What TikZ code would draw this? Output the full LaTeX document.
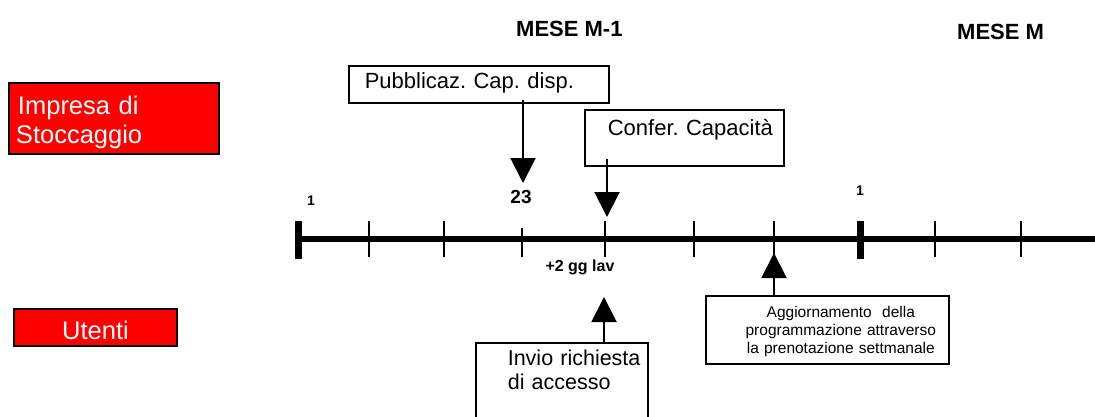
\documentclass[tikz,border=0pt]{standalone}
\usepackage{fontspec}
\setmainfont{Liberation Sans}
\usetikzlibrary{arrows.meta,calc}
\definecolor{boxred}{RGB}{255,0,0}
\newcommand{\padl}[1]{\hspace*{#1}}
\begin{document}
\frenchspacing
\begin{tikzpicture}[x=1pt,y=-1pt,
  redbox/.style={draw=black, line width=2pt, fill=boxred, text=white, inner sep=0pt, anchor=north west, font=\fontsize{25.5}{29}\selectfont},
  whitebox/.style={draw=black, line width=1.6pt, fill=white, inner sep=0pt, anchor=north west},
  arr/.style={line width=2pt, -{Triangle[width=25pt,length=25pt]}},
  timeline/.style={line width=5.5pt},
  thintick/.style={line width=2pt},
  thicktick/.style={line width=7pt},
  lbl/.style={anchor=base, inner sep=0pt},
  month/.style={anchor=base west, inner sep=0pt, font=\bfseries\fontsize{22}{26}\selectfont}]
\clip (0,0) rectangle (1095,416);

% month labels
\node[month] (m1) at (516,36) {MESE M-1};
\node[month] (m0) at (957,39) {MESE M};

% actor boxes
\node[redbox, text width=210pt, text height=31pt, text depth=40pt, align=left] (imp) at (8,82) {\padl{9pt}Impresa di\\\padl{7pt}Stoccaggio};
\node[redbox, text width=163pt, text height=30pt, text depth=7pt, align=center] (ute) at (13,308) {Utenti};

% timeline
\coordinate (L0) at (298,239);
\coordinate (L1) at (1095,239);
\draw[timeline] (L0) -- (L1);
\foreach \x in {369,444,605,694,774,935,1021}
  \draw[thintick] (\x,221) -- (\x,257);
\draw[thintick] (522,228) -- (522,257);
\foreach \x in {298,860}
  \draw[thicktick] (\x,221) -- (\x,259);

% timeline labels
\node[lbl, font=\bfseries\fontsize{14}{16}\selectfont] (d1) at (311,205) {1};
\node[lbl, font=\bfseries\fontsize{19}{22}\selectfont] (d23) at (521,203) {23};
\node[lbl, font=\bfseries\fontsize{16}{18}\selectfont] (dgg) at (580,271) {+2 gg lav};
\node[lbl, font=\bfseries\fontsize{14}{16}\selectfont] (d1b) at (860,195) {1};

% event boxes
\node[whitebox, text width=260pt, text height=23pt, text depth=14pt, align=left, font=\fontsize{22}{26}\selectfont] (pub) at (348,65) {\padl{16pt}Pubblicaz. Cap. disp.};
\node[whitebox, text width=199pt, text height=26pt, text depth=30pt, align=left, font=\fontsize{22}{26}\selectfont] (conf) at (584,109) {\padl{23pt}Confer. Capacità};
\node[whitebox, text width=172pt, text height=23pt, text depth=62pt, align=left, font=\fontsize{21.5}{24}\selectfont] (inv) at (475,342) {\padl{32pt}Invio richiesta\\\padl{32pt}di accesso};
\node[whitebox, text width=243pt, text height=22pt, text depth=46pt, align=center, font=\fontsize{15.5}{18}\selectfont] (agg) at (705,295) {\padl{27pt}Aggiornamento\ \ della\\\padl{27pt}programmazione attraverso\\\padl{27pt}la prenotazione settmanale};

% arrows
\coordinate (ptip) at (523,183);
\coordinate (ctip) at (607,217);
\coordinate (itip) at (604,297);
\coordinate (atip) at (774,253);
\draw[arr] ($(pub.south -| ptip)+(0,-4)$) -- (ptip);
\draw[arr] ($(conf.south -| ctip)+(0,-8)$) -- (ctip);
\draw[arr] (inv.north -| itip) -- (itip);
\draw[arr] (agg.north -| atip) -- (atip);
\end{tikzpicture}
\end{document}
